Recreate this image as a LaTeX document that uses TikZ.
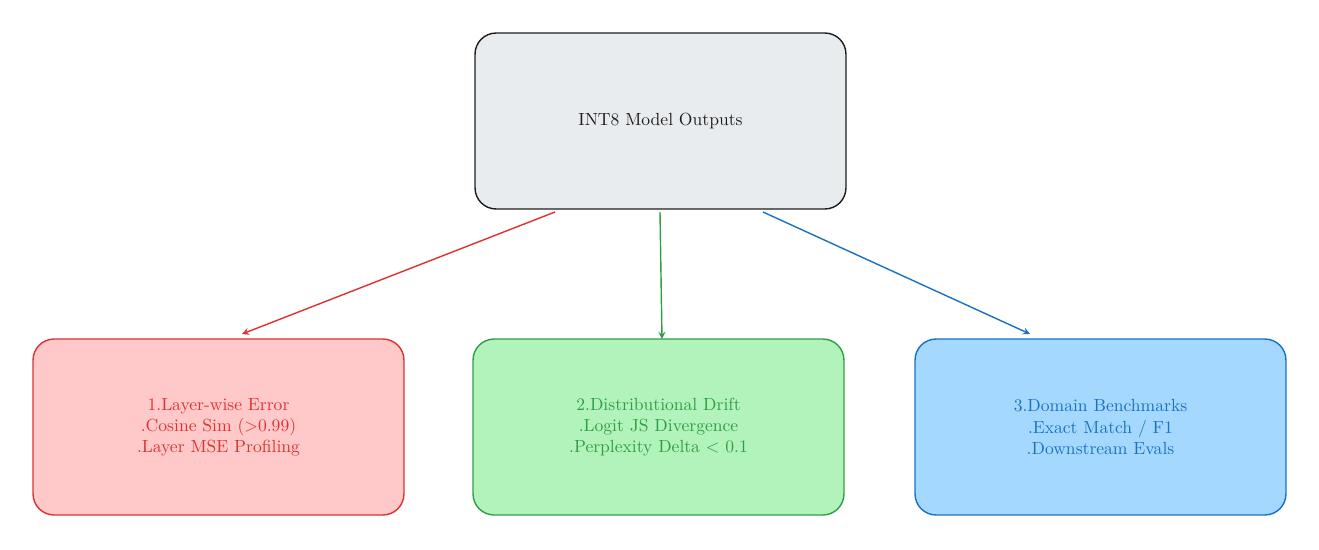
\documentclass[tikz,border=0pt]{standalone}
\usepackage{tikz}
\definecolor{redline}{HTML}{E03131}
\definecolor{redfill}{HTML}{FFC9C9}
\definecolor{greenline}{HTML}{2F9E44}
\definecolor{greenfill}{HTML}{B2F2BB}
\definecolor{blueline}{HTML}{1971C2}
\definecolor{bluefill}{HTML}{A5D8FF}
\definecolor{grayfill}{HTML}{E9ECEF}
\definecolor{darkline}{HTML}{1E1E1E}
\tikzstyle{arrow} = [->,>=stealth,thick]
\tikzstyle{box} = [draw,rounded corners=12pt,minimum width=7.42cm,minimum height=3.52cm,align=center,font=\normalsize,thick]

\begin{document}
\begin{tikzpicture}[x=0.02cm,y=-0.02cm]
          \useasboundingbox (0,0) rectangle (1319,549);
          \node[box, draw=darkline, fill=grayfill, text=darkline] at (660.5,121) (int8) {INT8 Model Outputs};
          \node[box, draw=redline, fill=redfill, text=redline] at (218.5,427) (layer) {1.Layer-wise Error\\.Cosine Sim (>0.99)\\.Layer MSE Profiling};
          \node[box, draw=greenline, fill=greenfill, text=greenline] at (658.5,427) (drift) {2.Distributional Drift\\.Logit JS Divergence\\.Perplexity Delta < 0.1};
          \node[box, draw=blueline, fill=bluefill, text=blueline] at (1100.5,427) (bench) {3.Domain Benchmarks\\.Exact Match / F1\\.Downstream Evals};

          \coordinate (rs) at (555,212);
          \coordinate (re) at (242,334);
          \coordinate (gs) at (660,212);
          \coordinate (ge) at (662,339);
          \coordinate (bs) at (763,212);
          \coordinate (be) at (1030,334);

          \draw[arrow, redline] (rs) -- (re);
          \draw[arrow, greenline] (gs) -- (ge);
          \draw[arrow, blueline] (bs) -- (be);
        \end{tikzpicture}
\end{document}
